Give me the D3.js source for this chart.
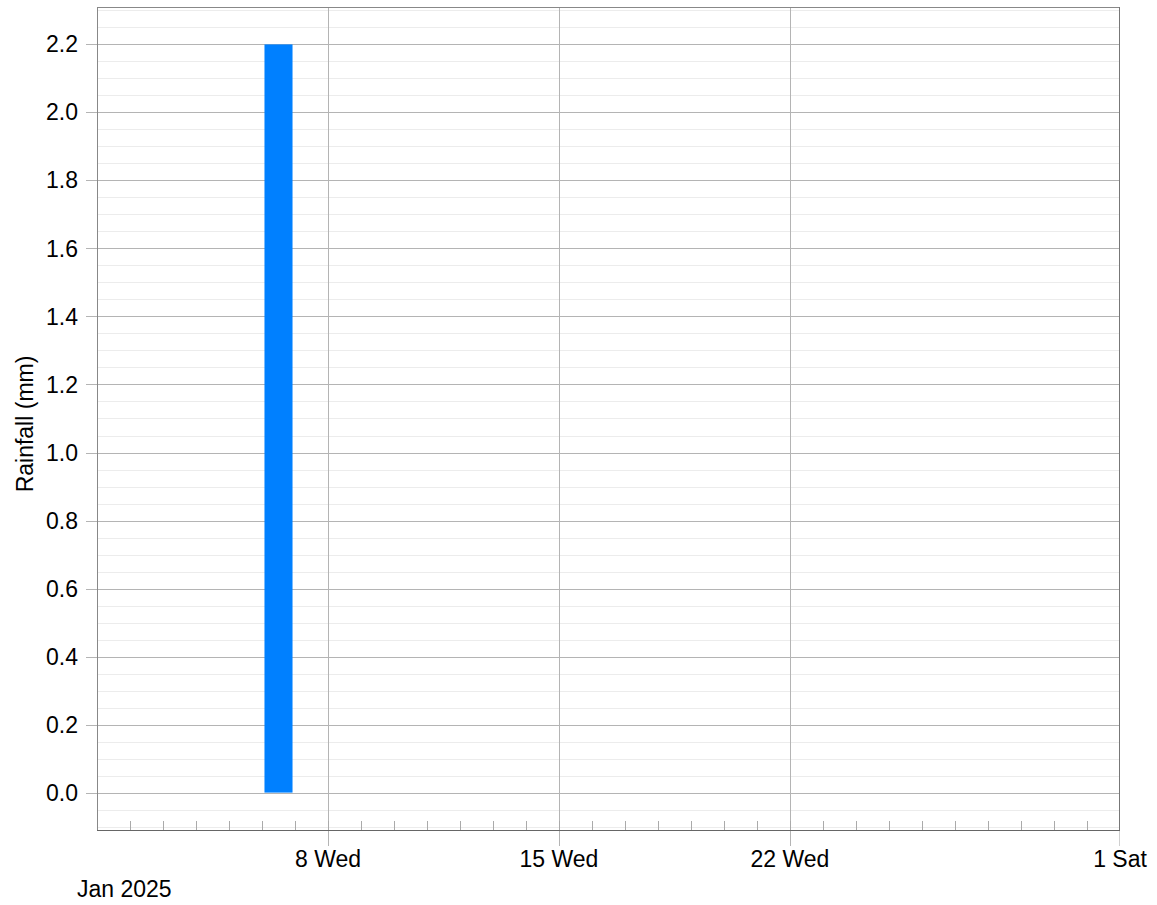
<!DOCTYPE html>
<html><head><meta charset="utf-8">
<script src="https://cdn.jsdelivr.net/npm/d3@7"></script>
<style>body{margin:0;background:#fff}text{font-family:"Liberation Sans",Arial,sans-serif}</style>
</head><body><svg id="c" width="1157" height="905"></svg>
<script>
const dates = ["2025-01-06"];
const rainfall = [2.2];
const yTicks = [0,0.2,0.4,0.6,0.8,1.0,1.2,1.4,1.6,1.8,2.0,2.2];
const xMajorDates = ["2025-01-08","2025-01-15","2025-01-22","2025-02-01"];
const xMajorLabels = ["8 Wed","15 Wed","22 Wed","1 Sat"];
const yTitle = "Rainfall (mm)";
const periodLabel = "Jan 2025";

const svg = d3.select("#c");
const m = {l:97, r:1120, t:7, b:830};
const parse = d3.utcParse("%Y-%m-%d");
const x = d3.scaleUtc().domain([parse("2025-01-01"), parse("2025-02-01")]).range([m.l, m.r]);
const y = d3.scaleLinear().domain([-0.11, 2.31]).range([m.b, m.t]);

// minor horizontal grid
const minor = d3.range(-0.1, 2.31, 0.05).map(v=>+v.toFixed(2));
svg.append("g").selectAll("line").data(minor).join("line")
  .attr("x1", m.l).attr("x2", m.r).attr("y1", d=>Math.round(y(d))+0.5).attr("y2", d=>Math.round(y(d))+0.5)
  .attr("stroke", "#ececec").attr("stroke-width",1);
// major horizontal grid
svg.append("g").selectAll("line").data(yTicks).join("line")
  .attr("x1", m.l-11).attr("x2", m.r).attr("y1", d=>Math.round(y(d))+0.5).attr("y2", d=>Math.round(y(d))+0.5)
  .attr("stroke", "#b4b4b4").attr("stroke-width",1);
// vertical grid at major x
const majors = xMajorDates.map(parse);
svg.append("g").selectAll("line").data(majors.slice(0,3)).join("line")
  .attr("x1", d=>Math.round(x(d))+0.5).attr("x2", d=>Math.round(x(d))+0.5).attr("y1", m.t).attr("y2", m.b+16)
  .attr("stroke", "#b4b4b4");
svg.append("line").attr("x1", Math.round(x(majors[3]))-0.5).attr("x2", Math.round(x(majors[3]))-0.5)
  .attr("y1", m.b).attr("y2", m.b+16).attr("stroke", "#d0d0d0");

// bars
const day = 864e5;
svg.append("g").selectAll("rect").data(dates.map((d,i)=>({d:parse(d), v:rainfall[i]}))).join("rect")
  .attr("x", d=>x(new Date(+d.d + 0.075*day)))
  .attr("width", d=>x(new Date(+d.d + 0.925*day)) - x(new Date(+d.d + 0.075*day)))
  .attr("y", d=>y(d.v)).attr("height", d=>y(0)-y(d.v))
  .attr("fill", "#0080ff");

// minor x ticks (daily, inside)
const daysAll = d3.utcDay.range(parse("2025-01-02"), parse("2025-02-01"));
svg.append("g").selectAll("line").data(daysAll).join("line")
  .attr("x1", d=>Math.round(x(d))+0.5).attr("x2", d=>Math.round(x(d))+0.5).attr("y1", m.b-9).attr("y2", m.b)
  .attr("stroke", "#aaa");

// frame
svg.append("rect").attr("x", m.l+0.5).attr("y", m.t+0.5).attr("width", m.r-m.l-1).attr("height", m.b-m.t)
  .attr("fill","none").attr("stroke","#888");
svg.append("line").attr("x1",m.l).attr("x2",m.r).attr("y1",m.b+0.5).attr("y2",m.b+0.5).attr("stroke","#666");
svg.append("line").attr("x1",m.r-0.5).attr("x2",m.r-0.5).attr("y1",m.t).attr("y2",m.b).attr("stroke","#777");

// y labels
svg.append("g").selectAll("text").data(yTicks).join("text")
  .attr("x", 78).attr("y", d=>y(d)).attr("dy","0.35em").attr("text-anchor","end")
  .attr("font-size", 23).attr("fill","#000").text(d=>d.toFixed(1));
// x labels
svg.append("g").selectAll("text").data(majors).join("text")
  .attr("x", d=>x(d)).attr("y", 867).attr("text-anchor","middle")
  .attr("font-size", 23).attr("fill","#000").text((d,i)=>xMajorLabels[i]);
svg.append("text").attr("x",77).attr("y",897).attr("font-size",23).text(periodLabel);
svg.append("text").attr("transform","translate(33,424) rotate(-90)").attr("text-anchor","middle")
  .attr("font-size",23).text(yTitle);
</script></body></html>
